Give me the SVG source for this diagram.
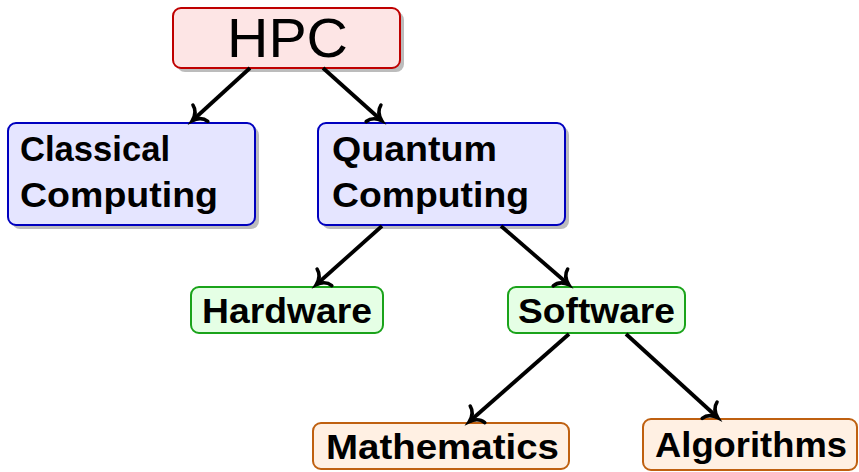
<svg xmlns="http://www.w3.org/2000/svg" width="859" height="472" viewBox="0 0 859 472">
<style>
  .lbl { font-family: "Liberation Sans", Arial, sans-serif; font-weight: bold; font-size: 35px; fill: #000; }
  .big { font-family: "Liberation Sans", Arial, sans-serif; font-size: 55px; fill: #000; }
  .shadow { fill: #bcbcbc; }
  .red { fill: #fde5e5; stroke: #bf0000; stroke-width: 2; }
  .blue { fill: #e5e5ff; stroke: #0000bf; stroke-width: 2; }
  .green { fill: #e5ffe5; stroke: #1aa31a; stroke-width: 2; }
  .orange { fill: #fff0e3; stroke: #bf6010; stroke-width: 2; }
  .edge { fill: none; stroke: #000; stroke-width: 3.8; marker-end: url(#to); }
</style>
<defs>
  <marker id="to" markerUnits="userSpaceOnUse" markerWidth="30" markerHeight="30" viewBox="-15 -15 30 30" refX="0" refY="0" orient="auto" overflow="visible">
    <path d="M -10,-11 C -9,-5 -4,-1.5 1,0 C -4,1.5 -9,5 -10,11" fill="none" stroke="#000" stroke-width="3.6" stroke-linecap="round"/>
  </marker>
</defs>
<rect width="859" height="472" fill="#fff"/>
<g id="node-hpc">
  <rect class="shadow" x="177" y="12" width="227" height="60" rx="8"/>
  <rect class="red" x="173" y="8" width="227" height="60" rx="8"/>
  <text class="big" x="287.5" y="57" text-anchor="middle" textLength="121" lengthAdjust="spacingAndGlyphs">HPC</text>
</g>
<g id="node-classical">
  <rect class="shadow" x="12" y="127" width="247" height="102" rx="8"/>
  <rect class="blue" x="8" y="123" width="247" height="102" rx="8"/>
  <text class="lbl" x="20" y="161" textLength="150" lengthAdjust="spacingAndGlyphs">Classical</text>
  <text class="lbl" x="20" y="207" textLength="198" lengthAdjust="spacingAndGlyphs">Computing</text>
</g>
<g id="node-quantum">
  <rect class="shadow" x="322" y="127" width="247" height="102" rx="8"/>
  <rect class="blue" x="318" y="123" width="247" height="102" rx="8"/>
  <text class="lbl" x="332" y="161" textLength="165" lengthAdjust="spacingAndGlyphs">Quantum</text>
  <text class="lbl" x="332" y="207" textLength="197" lengthAdjust="spacingAndGlyphs">Computing</text>
</g>
<g id="node-hardware">
  <rect class="green" x="191" y="287" width="192" height="46" rx="8"/>
  <text class="lbl" x="202" y="323" textLength="170" lengthAdjust="spacingAndGlyphs">Hardware</text>
</g>
<g id="node-software">
  <rect class="green" x="508" y="287" width="177" height="46" rx="8"/>
  <text class="lbl" x="518" y="323" textLength="157" lengthAdjust="spacingAndGlyphs">Software</text>
</g>
<g id="node-mathematics">
  <rect class="orange" x="313" y="423" width="256" height="46" rx="8"/>
  <text class="lbl" x="326" y="459" textLength="233" lengthAdjust="spacingAndGlyphs">Mathematics</text>
</g>
<g id="node-algorithms">
  <rect class="orange" x="643" y="419" width="214" height="51" rx="8"/>
  <text class="lbl" x="655" y="457" textLength="192" lengthAdjust="spacingAndGlyphs">Algorithms</text>
</g>
<g id="connectors">
  <path class="edge" d="M250,68 L193,120"/>
  <path class="edge" d="M323,68 L381,120"/>
  <path class="edge" d="M382,226 L317,284"/>
  <path class="edge" d="M501,226 L568,284"/>
  <path class="edge" d="M569,334 L470,421"/>
  <path class="edge" d="M626,334 L717,417"/>
</g>
</svg>
